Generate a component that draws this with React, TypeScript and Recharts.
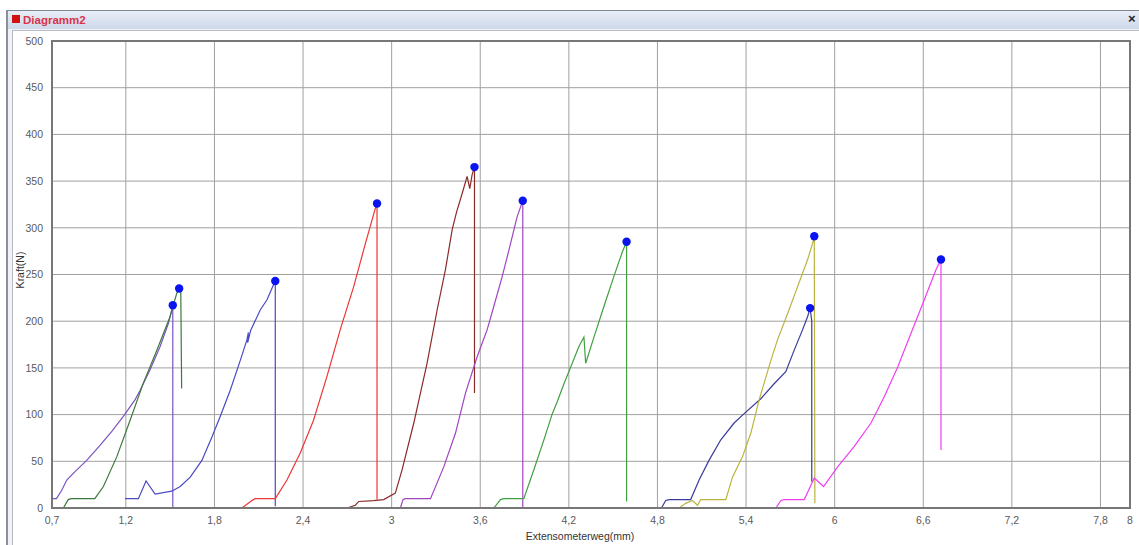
import React from 'react';
import {
  ComposedChart,
  Line,
  Scatter,
  XAxis,
  YAxis,
  CartesianGrid,
  ReferenceArea,
} from 'recharts';

// axis ticks
const xTicks = [0.7, 1.2, 1.8, 2.4, 3, 3.6, 4.2, 4.8, 5.4, 6, 6.6, 7.2, 7.8, 8];
const yTicks = [0, 50, 100, 150, 200, 250, 300, 350, 400, 450, 500];

// specimen curves, [Extensometerweg mm, Kraft N]
const curvePurple: number[][] = [
  [0.7, 10], [0.73, 10], [0.766, 19], [0.8, 30], [0.856, 39], [0.935, 51], [1.025, 67],
  [1.105, 82], [1.183, 98], [1.263, 116], [1.297, 126], [1.364, 148], [1.432, 173],
  [1.489, 198], [1.518, 217], [1.518, 0],
];
const curveDarkGreen: number[][] = [
  [0.777, 0], [0.81, 9], [0.83, 10], [0.99, 10], [1.048, 23], [1.139, 55], [1.229, 94],
  [1.319, 134], [1.41, 169], [1.5, 205], [1.545, 230], [1.561, 235], [1.572, 232],
  [1.578, 128],
];
const curveBlue: number[][] = [
  [1.195, 10], [1.285, 10], [1.337, 29], [1.398, 15], [1.511, 18], [1.568, 23], [1.636, 33],
  [1.715, 51], [1.783, 76], [1.839, 98], [1.907, 126], [1.975, 158], [2.02, 180],
  [2.03, 188], [2.025, 177], [2.045, 190], [2.11, 212], [2.156, 223], [2.2, 239],
  [2.212, 243], [2.212, 2],
];
const curveRed: number[][] = [
  [1.986, 0], [2.054, 8], [2.075, 10], [2.212, 10], [2.291, 30], [2.381, 59], [2.471, 94],
  [2.562, 141], [2.652, 191], [2.743, 237], [2.822, 283], [2.89, 321], [2.901, 326],
  [2.901, 9],
];
const curveBrown: number[][] = [
  [2.698, 0], [2.754, 3], [2.777, 7], [2.878, 8], [2.946, 9], [3.025, 16], [3.071, 41],
  [3.15, 91], [3.24, 155], [3.308, 212], [3.364, 255], [3.41, 298], [3.44, 317],
  [3.478, 337], [3.511, 355], [3.529, 342], [3.545, 357], [3.561, 365], [3.561, 123],
];
const curveViolet: number[][] = [
  [3.059, 0], [3.077, 9], [3.09, 10], [3.263, 10], [3.353, 44], [3.432, 80], [3.5, 123],
  [3.579, 162], [3.647, 191], [3.692, 216], [3.749, 248], [3.805, 283], [3.85, 312],
  [3.877, 324], [3.888, 329], [3.888, 0],
];
const curveGreen: number[][] = [
  [3.692, 0], [3.737, 9], [3.76, 10], [3.895, 10], [3.963, 41], [4.031, 73], [4.088, 101],
  [4.122, 114], [4.167, 133], [4.223, 155], [4.268, 173], [4.302, 183], [4.314, 155],
  [4.37, 183], [4.438, 216], [4.505, 248], [4.562, 274], [4.591, 285], [4.591, 7],
];
const curveNavy: number[][] = [
  [4.827, 0], [4.856, 8], [4.88, 9], [5.025, 9], [5.082, 30], [5.149, 51], [5.229, 73],
  [5.319, 91], [5.387, 101], [5.5, 117], [5.59, 133], [5.669, 146], [5.726, 169],
  [5.783, 191], [5.817, 205], [5.834, 214], [5.845, 200], [5.845, 28],
];
const curveOlive: number[][] = [
  [4.946, 0], [4.991, 5], [5.037, 8], [5.071, 3], [5.093, 9], [5.263, 9], [5.308, 33],
  [5.376, 55], [5.432, 80], [5.489, 116], [5.568, 158], [5.613, 180], [5.681, 208],
  [5.749, 237], [5.817, 266], [5.85, 283], [5.862, 291], [5.866, 5],
];
const curveMagenta: number[][] = [
  [5.602, 0], [5.636, 8], [5.66, 9], [5.794, 9], [5.862, 32], [5.925, 23], [6.02, 44],
  [6.133, 66], [6.246, 91], [6.336, 119], [6.427, 151], [6.517, 187], [6.607, 223],
  [6.686, 255], [6.72, 266], [6.72, 62],
];

const curves = [
  { name: 'purple', points: curvePurple, color: '#7a52c4' },
  { name: 'darkGreen', points: curveDarkGreen, color: '#3c7a3c' },
  { name: 'blue', points: curveBlue, color: '#4a4ac4' },
  { name: 'red', points: curveRed, color: '#ee3535' },
  { name: 'brown', points: curveBrown, color: '#8c2a28' },
  { name: 'violet', points: curveViolet, color: '#a044c4' },
  { name: 'green', points: curveGreen, color: '#3fa03f' },
  { name: 'navy', points: curveNavy, color: '#3a3a9c' },
  { name: 'olive', points: curveOlive, color: '#b9b43e' },
  { name: 'magenta', points: curveMagenta, color: '#f23ef2' },
];

const toRows = (pts: number[][]) => pts.map(([x, y]) => ({ x, y }));

// break point of every specimen = max force
const peaks = curves.map((c) => {
  const top = c.points.reduce((a, b) => (b[1] > a[1] ? b : a));
  return { x: top[0], y: top[1] };
});

const fmt = (v: number) => String(v).replace('.', ',');

const tickStyle = { fontSize: 10.5, fill: '#5a5a5a', fontFamily: 'Liberation Sans, Arial, sans-serif' };

export default function App() {
  return (
    <div
      style={{
        position: 'fixed',
        left: 0,
        top: 0,
        width: 1139,
        height: 545,
        background: '#fff',
        overflow: 'hidden',
        fontFamily: 'Liberation Sans, Arial, sans-serif',
      }}
    >
      {/* window frame */}
      <div
        style={{
          position: 'absolute',
          left: 6,
          top: 10,
          width: 1140,
          height: 540,
          borderTop: '1px solid #7d8592',
          borderLeft: '2px solid #8a8f98',
          background: '#f0f2f5',
        }}
      />
      <div
        style={{
          position: 'absolute',
          left: 8,
          top: 11,
          width: 1131,
          height: 18,
          background: 'linear-gradient(#e9eef6, #cdd8ea)',
        }}
      />
      <div
        style={{
          position: 'absolute',
          left: 12,
          top: 15,
          width: 8,
          height: 8,
          background: '#d01010',
        }}
      />
      <div
        style={{
          position: 'absolute',
          left: 23,
          top: 12,
          fontSize: 11.5,
          fontWeight: 600,
          color: '#d8344a',
          lineHeight: '16px',
        }}
      >
        Diagramm2
      </div>
      <div
        style={{
          position: 'absolute',
          left: 1128,
          top: 11,
          fontSize: 13,
          fontWeight: 'bold',
          color: '#222',
          lineHeight: '16px',
        }}
      >
        ×
      </div>
      <div
        style={{
          position: 'absolute',
          left: 12,
          top: 30,
          width: 1130,
          height: 520,
          borderTop: '1px solid #b8bcc4',
          borderLeft: '1px solid #b8bcc4',
          background: '#fff',
        }}
      />

      <div style={{ position: 'absolute', left: 0, top: 0 }}>
        <ComposedChart
          width={1139}
          height={545}
          margin={{ top: 41, right: 9, bottom: 0, left: 12 }}
        >
          <CartesianGrid stroke="#a0a0a0" strokeWidth={1} />
          <XAxis
            dataKey="x"
            type="number"
            domain={[0.7, 8]}
            ticks={xTicks}
            interval={0}
            tickFormatter={fmt}
            height={37}
            tickSize={0}
            tickMargin={9}
            tick={tickStyle}
            axisLine={{ stroke: '#777', strokeWidth: 2 }}
            allowDataOverflow
          />
          <YAxis
            dataKey="y"
            type="number"
            domain={[0, 500]}
            ticks={yTicks}
            interval={0}
            width={40}
            tickSize={0}
            tickMargin={9}
            tick={tickStyle}
            axisLine={{ stroke: '#777', strokeWidth: 2 }}
            allowDataOverflow
          />
          <ReferenceArea
            x1={0.7}
            x2={8}
            y1={0}
            y2={500}
            fill="none"
            fillOpacity={0}
            stroke="#777"
            strokeWidth={2}
            ifOverflow="visible"
          />
          {curves.map((c) => (
            <Line
              key={c.name}
              data={toRows(c.points)}
              dataKey="y"
              type="linear"
              stroke={c.color}
              strokeWidth={1.2}
              dot={false}
              activeDot={false}
              isAnimationActive={false}
            />
          ))}
          <Scatter
            data={peaks}
            dataKey="y"
            fill="#0a14f0"
            isAnimationActive={false}
            shape={(p: any) => <circle cx={p.cx} cy={p.cy} r={4.2} fill="#0a14f0" />}
          />
        </ComposedChart>
      </div>

      <div
        style={{
          position: 'absolute',
          left: 480,
          width: 200,
          top: 530,
          textAlign: 'center',
          fontSize: 10.5,
          color: '#333',
        }}
      >
        Extensometerweg(mm)
      </div>
      <div
        style={{
          position: 'absolute',
          left: -20,
          top: 264,
          width: 80,
          textAlign: 'center',
          fontSize: 10.5,
          color: '#333',
          transform: 'rotate(-90deg)',
        }}
      >
        Kraft(N)
      </div>
    </div>
  );
}
